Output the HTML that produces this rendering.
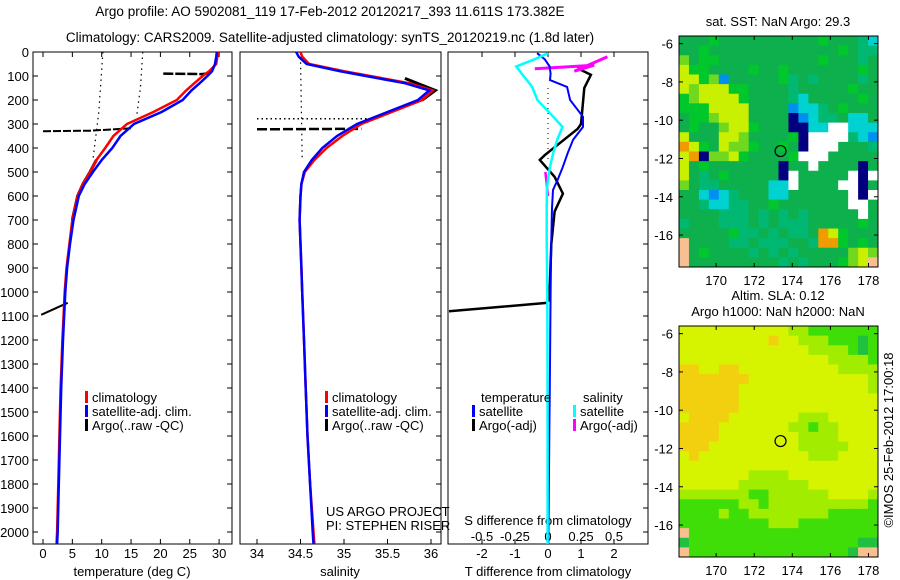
<!DOCTYPE html>
<html><head><meta charset="utf-8"><style>
html,body{margin:0;padding:0;background:#fff;width:900px;height:580px;overflow:hidden}
svg{display:block;font-family:"Liberation Sans",sans-serif;font-size:13px}
</style></head><body>
<svg id="s" width="900" height="580" xmlns="http://www.w3.org/2000/svg">
<text x="330" y="16" text-anchor="middle" font-size="13.5">Argo profile: AO 5902081_119 17-Feb-2012 20120217_393 11.611S 173.382E</text>
<text x="330" y="42" text-anchor="middle" font-size="13.5">Climatology: CARS2009. Satellite-adjusted climatology: synTS_20120219.nc (1.8d later)</text>
</svg>
<script>
// ---- data ----
const depthClim=[0,20,50,80,100,130,160,200,250,300,350,400,450,500,550,600,700,800,900,1000,1200,1400,1600,1800,2000,2050];
const tempClim=[29.8,29.7,29.5,28.3,27.2,25.8,24.4,22.8,18.8,14.3,12.0,10.6,9.1,8.0,6.8,5.9,5.0,4.5,4.0,3.7,3.3,3.0,2.8,2.6,2.4,2.3];
const tempSat=[29.6,29.5,29.3,28.8,28.0,26.7,25.3,23.8,20.2,15.5,13.2,11.8,10.0,8.5,7.1,6.1,5.2,4.6,4.1,3.8,3.4,3.1,2.9,2.7,2.5,2.4];
const salClim=[34.5,34.52,34.6,35.0,35.3,35.75,36.02,35.9,35.55,35.2,34.98,34.8,34.66,34.55,34.51,34.5,34.49,34.5,34.51,34.52,34.54,34.56,34.58,34.61,34.65,34.66];
const salSat=[34.45,34.48,34.57,34.95,35.25,35.7,35.98,35.85,35.5,35.15,34.92,34.75,34.63,34.54,34.51,34.5,34.49,34.5,34.51,34.52,34.54,34.56,34.58,34.61,34.64,34.65];
const diffDepth=[5,30,60,90,117,146,200,270,312,366,420,478,530,575,650,783,1000,1300,1600,1900,2050];
const tDiffSat=[-0.33,-0.1,0.05,0.08,0.06,0.58,0.67,1.06,1.06,0.76,0.6,0.45,0.3,0.15,0.12,0.1,0.08,0.06,0.04,0.02,0.01];
const sDiffSat=[0.0,-0.1,-0.24,-0.2,-0.16,-0.12,-0.08,0.04,0.11,0.07,0.04,0.015,0.0,-0.008,-0.01,-0.01,-0.005,-0.004,-0.003,-0.003,-0.003];
const argoDiffDepth=[60,75,95,150,300,320,430,450,520,590,665,800,1000,1040];
const tDiffArgo=[0.9,1.0,1.3,1.1,1.0,0.9,-0.1,-0.25,0.2,0.45,0.2,0.1,0.05,0.05];
const depthTicks=[0,100,200,300,400,500,600,700,800,900,1000,1100,1200,1300,1400,1500,1600,1700,1800,1900,2000];
const tempTicks=[0,5,10,15,20,25,30];
const salTicks=[34,34.5,35,35.5,36];
const tdTicks=[-2,-1,0,1,2];
const sdTicks=["-0.5","-0.25","0","0.25","0.5"];
const lonTicks=[170,172,174,176,178];
const latTicks=[-6,-8,-10,-12,-14,-16];
const sstGrid=[
"gggGggggggggggGgggtc",
"ggGgggggggggggggGgtt",
"lgGGggggggggggGgggtg",
"yGGggggGggGgggggggGg",
"yyGlbgggggGtgtggggtg",
"ylyyyGGggggtgggggGgg",
"GlyyyyGggggtcgggggGg",
"GGGyyyyggggbcctgGggg",
"gGGlyyyggggnbcttgccg",
"gGgglyyGgggnnccwwccc",
"ygggyylggggGnwwwwtcb",
"oyGgyllGggGgnwwwgggt",
"yonllyGggggGwwwggggg",
"ygGgggggggnggwggggng",
"ygtgGgggggnwgggggwnw",
"lgttgggggccwggggwwng",
"ggcbctgggccggggggwnw",
"ggtccttggGgggggggwwg",
"ggggtttgtgtgtgggggwg",
"tgggtttgtgtttgggggGg",
"gggggGttgtgttgoyGggg",
"pggggttgtttggtooGgGg",
"pgGggggtgtgtggggglyl",
"pgggggggggtgtgggGlyp"];
const slaGrid=[
"YYYYYYYYYYYLLGGGGGGG",
"YYYYYYYYYOYYLLLGGGgG",
"YYYYYYYYYYYYYLLLLGgG",
"YYYYYYYYYYYYYYYLLLLG",
"OOYYOOYYYYYYYYYYLLLL",
"OOOOOOOYYYYYYYYYYYYL",
"OOOOOOYYYYYYYYYYYYYL",
"OOOOOOYYYYYYYYYYYYYY",
"OOOOOOYYYYYYYYYYYYYY",
"YOOOOYYYYYYYLLLYYYYY",
"OOOOYYYYYYYLLGLLYYYY",
"OOOOYYYYYYYYLLLLYYYY",
"OOOYYYYYYYYYLLLLLYYY",
"YOYYYYYYYYYYYLLLYYYY",
"YYYYYYYYYYYYYYYYYYYY",
"YYYYYYYLLLLYYYYYYYYY",
"YYYYYYLLLLLLLYYYYYYY",
"LLLLLLLGGLLLLLLYYYYL",
"GGGGGGLLGLLLLLLLLLLG",
"GGGGLGGLLLLLLLLGGGGG",
"GGGGGGGGGLLLGGGGGGGG",
"pGGGGGGGGGGGGGGGGGGG",
"gGGGGGGGGGGGGGGGGGgg",
"pGGGGGGGGGGGGGGGGgpp"];
const argoLon=173.382, argoLat=-11.611;

// ---- helpers ----
const S=document.getElementById('s');
const NS='http://www.w3.org/2000/svg';
function mk(tag,at,parent){const e=document.createElementNS(NS,tag);for(const k in at)e.setAttribute(k,at[k]);(parent||S).appendChild(e);return e;}
const top0=52, bot0=544;
const yD=d=>top0+d*0.24;
const panels=[{x0:33,x1:232},{x0:240,x1:441},{x0:448,x1:648}];
const xT=t=>43+t*5.87;
const xS=s=>257+(s-34)*87;
const xTD=t=>548+t*33;
const xSD=s=>548+s*132;
function line(xs,ys,col,w,name,dash){
  const pts=xs.map((x,i)=>x.toFixed(1)+','+ys[i].toFixed(1)).join(' ');
  const e=mk('polyline',{points:pts,fill:'none',stroke:col,'stroke-width':w});
  if(dash)e.setAttribute('stroke-dasharray',dash);
  
  
  return e;
}
function txt(x,y,s,anchor,name,extra){
  const e=mk('text',Object.assign({x:x,y:y,'text-anchor':anchor||'start'},extra||{}));
  e.textContent=s;
  
  
  return e;
}

panels.forEach((p,i)=>{
  const r=mk('rect',{x:p.x0,y:top0,width:p.x1-p.x0,height:bot0-top0,fill:'none',stroke:'#000','stroke-width':1});
  
  
  depthTicks.forEach(d=>{
    const t=mk('line',{x1:p.x1,x2:p.x1-5,y1:yD(d),y2:yD(d),stroke:'#000'});
    
    
    if(i===0){
      const t2=mk('line',{x1:p.x0,x2:p.x0+5,y1:yD(d),y2:yD(d),stroke:'#000'});
      
      
    }
  });
});
depthTicks.forEach(d=>txt(29,yD(d)+5,String(d),'end','depth-tick-label'));

function xticks(vals,fx,labels,ly,name,both){
  vals.forEach((v,i)=>{
    const x=fx(v);
    const a=mk('line',{x1:x,x2:x,y1:bot0,y2:bot0-5,stroke:'#000'});
    
    
    if(both){const b=mk('line',{x1:x,x2:x,y1:top0,y2:top0+5,stroke:'#000'});
      
      }
    txt(x,ly,labels[i],'middle',name+'-tick-label');
  });
}
xticks(tempTicks,xT,tempTicks.map(String),558,'temperature',true);
xticks(salTicks,xS,salTicks.map(String),558,'salinity',false);
xticks(tdTicks,xTD,tdTicks.map(String),558,'t-difference',true);
sdTicks.forEach((l,i)=>txt(xTD(tdTicks[i]),541,l,'middle','s-difference-tick-label'));
txt(132,576,'temperature (deg C)','middle','temperature-axis-title');
txt(340,576,'salinity','middle','salinity-axis-title');
txt(548,576,'T difference from climatology','middle','t-difference-axis-title');
txt(548,525,'S difference from climatology','middle','s-difference-axis-title');

// panel 1
line([xT(10.2),xT(9.5),xT(8.5)],[yD(0),yD(250),yD(450)],'#000',1.2,'argo-raw-temp-dotted','1.5,4');
line([xT(17),xT(16.6),xT(16)],[yD(0),yD(150),yD(260)],'#000',1.2,'argo-raw-temp-dotted-2','1.5,4');
line([xT(0),xT(8),xT(15)],[yD(330),yD(328),yD(318)],'#000',2,'argo-temp-spike-330','8,2');
line([xT(20.5),xT(27),xT(28.5)],[yD(90),yD(92),yD(88)],'#000',2.5,'argo-temp-spike-90','10,2');
line([xT(-0.3),xT(4.2)],[yD(1095),yD(1045)],'#000',2,'argo-temp-spike-1050');
line(tempClim.slice(12,17).map(xT),depthClim.slice(12,17).map(yD),'#000',3,'argo-temp-deep');
line(tempClim.map(xT),depthClim.map(yD),'#f00',2.5,'temp-climatology-line');
line(tempSat.map(xT),depthClim.map(yD),'#00f',2.5,'temp-satellite-line');

// panel 2
line([xS(34),xS(35.3)],[yD(278),yD(278)],'#000',1.5,'argo-sal-dotted','1.5,3');
line([xS(34.5),xS(34.52)],[yD(20),yD(450)],'#000',1.2,'argo-sal-dotted-2','1.5,4');
line([xS(34),xS(35.2)],[yD(322),yD(320)],'#000',2.5,'argo-sal-spike','10,3');
line([xS(35.7),xS(36.05),xS(35.9)],[yD(110),yD(160),yD(200)],'#000',3,'argo-sal-top');
line(salClim.map(xS),depthClim.map(yD),'#f00',2.5,'sal-climatology-line');
line(salSat.map(xS),depthClim.map(yD),'#00f',2.5,'sal-satellite-line');
txt(326,516,'US ARGO PROJECT','start','project-label');
txt(326,530,'PI: STEPHEN RISER','start','pi-label');

// panel 3
line([xTD(0),xTD(0)],[yD(150),yD(450)],'#000',1,'zero-dotted','1,4');
line(tDiffArgo.map(xTD),argoDiffDepth.map(yD),'#000',2.5,'t-diff-argo-line');
line([xTD(-3),xTD(0)],[yD(1080),yD(1045)],'#000',2.5,'t-diff-argo-spike');
line([xSD(-0.1),xSD(0.35),xSD(0.2),xSD(0.45)],[yD(70),yD(55),yD(80),yD(20)],'#f0f',3,'s-diff-argo-line');
line([xSD(-0.02),xSD(0.0)],[yD(500),yD(600)],'#f0f',2.5,'s-diff-argo-deep');
line(tDiffSat.map(xTD),diffDepth.map(yD),'#00f',2,'t-diff-satellite-line');
line(sDiffSat.map(xSD),diffDepth.map(yD),'#0ff',2.5,'s-diff-satellite-line');

function leg(x,y,col,label,name){
  const r=mk('rect',{x:x,y:y-11,width:3,height:12,fill:col});
  
  
  txt(x+7,y,label,'start',name);
}
leg(85,402,'#f00','climatology','legend-climatology');
leg(85,416,'#00f','satellite-adj. clim.','legend-satellite');
leg(85,430,'#000','Argo(..raw -QC)','legend-argo');
leg(325,402,'#f00','climatology','legend2-climatology');
leg(325,416,'#00f','satellite-adj. clim.','legend2-satellite');
leg(325,430,'#000','Argo(..raw -QC)','legend2-argo');
txt(481,402,'temperature','start','legend3-temperature-header');
txt(583,402,'salinity','start','legend3-salinity-header');
leg(472,416,'#00f','satellite','legend3-t-satellite');
leg(472,430,'#000','Argo(-adj)','legend3-t-argo');
leg(573,416,'#0ff','satellite','legend3-s-satellite');
leg(573,430,'#f0f','Argo(-adj)','legend3-s-argo');

// maps
const mapX0=679,mapX1=878,lonMin=168.05,lonMax=178.5,latMax=-5.6,latMin=-17.67;
const cSST={g:'#0db04c',G:'#00c72c',l:'#70d81e',y:'#c8f000',Y:'#f0e800',o:'#f09c00',t:'#00b872',c:'#00d2d2',b:'#0090f0',n:'#000080',w:'#ffffff',p:'#f8c090'};
const cSLA={Y:'#d6f300',O:'#f2d010',L:'#a2ec00',G:'#40de08',g:'#20c040',p:'#f8c090'};
function drawMap(y0,y1,grid,cols,name,title){
  const lx=v=>mapX0+(v-lonMin)/(lonMax-lonMin)*(mapX1-mapX0);
  const ly=v=>y0+(latMax-v)/(latMax-latMin)*(y1-y0);
  const g=mk('g',{});
  
  
  const nr=grid.length,nc=grid[0].length;
  const cw=(mapX1-mapX0)/nc,ch=(y1-y0)/nr;
  grid.forEach((row,j)=>{
    for(let i=0;i<nc;i++){
      const c=mk('rect',{x:(mapX0+i*cw).toFixed(2),y:(y0+j*ch).toFixed(2),width:(cw+0.4).toFixed(2),height:(ch+0.4).toFixed(2),fill:cols[row[i]]||'#0db04c'},g);
      
      
    }
  });
  const fr=mk('rect',{x:mapX0,y:y0,width:mapX1-mapX0,height:y1-y0,fill:'none',stroke:'#000'});
  
  
  lonTicks.forEach(v=>{
    const x=lx(v);
    const a=mk('line',{x1:x,x2:x,y1:y0,y2:y0+4,stroke:'#000'});
    
    
    const b=mk('line',{x1:x,x2:x,y1:y1,y2:y1-4,stroke:'#000'});
    
    
    txt(x,y1+18,String(v),'middle','lon-tick-label');
  });
  latTicks.forEach(v=>{
    const y=ly(v);
    const a=mk('line',{x1:mapX0,x2:mapX0+4,y1:y,y2:y,stroke:'#000'});
    
    
    const b=mk('line',{x1:mapX1,x2:mapX1-4,y1:y,y2:y,stroke:'#000'});
    
    
    txt(mapX0-6,y+5,String(v),'end','lat-tick-label');
  });
  const c=mk('circle',{cx:lx(argoLon),cy:ly(argoLat),r:5.5,fill:'none',stroke:'#000','stroke-width':1.2});
  
  
  title.forEach((t,k)=>txt(778,y0-10-(title.length-1-k)*16,t,'middle',name+'-title'));
}
drawMap(36,267,sstGrid,cSST,'sst-map',['sat. SST: NaN Argo: 29.3']);
drawMap(326,557,slaGrid,cSLA,'sla-map',['Altim. SLA: 0.12','Argo h1000: NaN h2000: NaN']);
txt(0,0,'©IMOS 25-Feb-2012 17:00:18','middle','imos-credit',{transform:'translate(893,440) rotate(-90)'});
</script>
</body></html>
